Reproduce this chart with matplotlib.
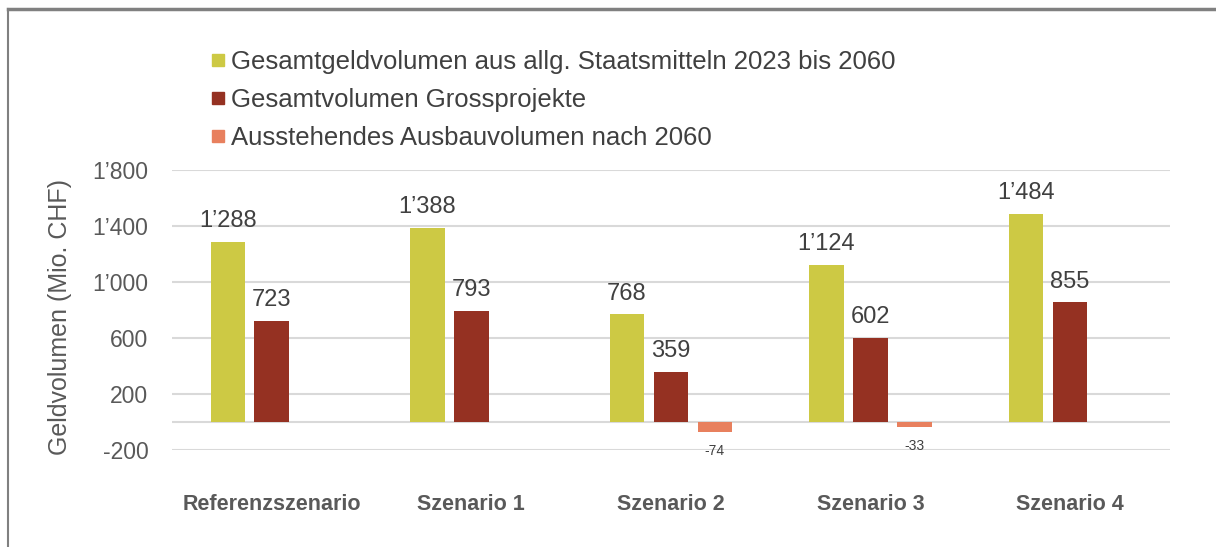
import matplotlib.pyplot as plt
import numpy as np
from matplotlib.lines import Line2D

plt.rcParams['font.family'] = ['Liberation Sans', 'DejaVu Sans']

# data
scenarios = ["Referenzszenario", "Szenario 1", "Szenario 2", "Szenario 3", "Szenario 4"]
staatsmittel = [1288, 1388, 768, 1124, 1484]
grossprojekte = [723, 793, 359, 602, 855]
ausstehend = [None, None, -74, -33, None]
series_names = ["Gesamtgeldvolumen aus allg. Staatsmitteln 2023 bis 2060",
                "Gesamtvolumen Grossprojekte",
                "Ausstehendes Ausbauvolumen nach 2060"]
yticks = [-200, 200, 600, 1000, 1400, 1800]

colors = ["#CDC944", "#953122", "#E8805E"]
text_col = "#404040"
tick_col = "#595959"


def fmt(v):
    # swiss thousands separator
    s = f"{abs(v):,}".replace(",", "\u2019")
    return ("-" if v < 0 else "") + s


fig = plt.figure(figsize=(12.16, 5.47), dpi=100)
ax = fig.add_axes([0.1414, 0.1773, 0.8206, 0.5119])

x = np.arange(len(scenarios))
w = 0.173
off = 0.22

for vals, dx, c in zip([staatsmittel, grossprojekte], [-off, 0], colors[:2]):
    ax.bar(x + dx, vals, w, color=c, zorder=3)
    for xi, v in zip(x, vals):
        ax.text(xi + dx, v + 70, fmt(v), ha="center", va="bottom",
                fontsize=17, color=text_col)

for xi, v in zip(x, ausstehend):
    if v is None:
        continue
    ax.bar(xi + off, v, w, color=colors[2], zorder=3)
    ax.text(xi + off, v - 85, fmt(v), ha="center", va="top",
            fontsize=10, color=text_col)

ax.set_xlim(-0.5, len(scenarios) - 0.5)
ax.set_ylim(-200, 1800)
ax.set_yticks(yticks)
ax.set_yticklabels([fmt(t) for t in yticks])
ax.set_xticks(x)
ax.set_xticklabels(scenarios, fontweight="bold", fontsize=15.5, color=tick_col)
ax.tick_params(axis="y", length=0, labelsize=16.5, labelcolor=tick_col, pad=17)
ax.tick_params(axis="x", length=0, pad=32)

for t in yticks:
    ax.axhline(t, color="#D9D9D9", lw=1.5, zorder=1)
ax.axhline(0, color="#D9D9D9", lw=1.5, zorder=1)
for s in ax.spines.values():
    s.set_visible(False)

fig.text(60 / 1216, 1 - 317 / 547, "Geldvolumen (Mio. CHF)", rotation=90,
         ha="center", va="center", fontsize=18, color=tick_col)

handles = [Line2D([], [], marker="s", ls="", color=c, markersize=8) for c in colors]
fig.legend(handles, series_names, loc="upper left", bbox_to_anchor=(0.1727, 0.908),
           frameon=False, fontsize=18.5, labelcolor=text_col, handlelength=0.6,
           handletextpad=0.2, labelspacing=0.53, borderaxespad=0, borderpad=0)

# outer frame lines
fig.add_artist(Line2D([8 / 1216, 1], [1 - 9 / 547, 1 - 9 / 547], color="#808080", lw=2.5))
fig.add_artist(Line2D([8 / 1216, 8 / 1216], [0, 1 - 9 / 547], color="#808080", lw=1.5))

fig.savefig("out.png", dpi=100)
